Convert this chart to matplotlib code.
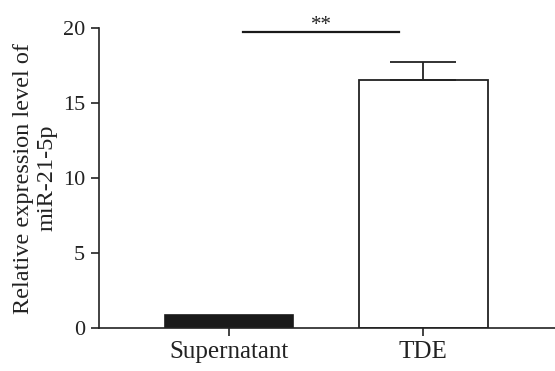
import matplotlib
matplotlib.use("Agg")
import matplotlib.pyplot as plt

categories = ["Supernatant", "TDE"]
values = [0.92, 16.55]
err_upper = [0.0, 1.2]
yticks = [0, 5, 10, 15, 20]

plt.rcParams['font.family'] = ['Liberation Serif', 'DejaVu Serif']

fig = plt.figure(figsize=(5.55, 3.71), dpi=100)
ax = fig.add_axes([0.1784, 0.1146, 0.8216, 0.81])

x = [0, 1]
ax.bar(x[0], values[0], width=0.655, color='#1a1a1a', edgecolor='#1a1a1a', linewidth=1.2)
ax.bar(x[1], values[1], width=0.665, color='white', edgecolor='#222222', linewidth=1.3)
ax.errorbar([x[1]], [values[1]], yerr=[[0], [err_upper[1]]], fmt='none',
            ecolor='#222222', elinewidth=1.3, capsize=23.5, capthick=1.3)

ax.plot([0.074, 0.878], [19.7, 19.7], color='#1a1a1a', lw=1.6, clip_on=False)
ax.text(0.478, 19.85, "**", ha='center', va='baseline', fontsize=15, clip_on=False, color='#222222')

ax.set_xlim(-0.67, 1.68)
ax.set_ylim(0, 20)
ax.set_yticks(yticks)
ax.set_xticks(x)
ax.set_xticklabels(categories)
ax.tick_params(axis='both', width=1.2, length=6, direction='out', colors='#222222')
ax.tick_params(axis='x', labelsize=18, pad=3)
ax.tick_params(axis='y', labelsize=16, pad=4)
ax.spines['top'].set_visible(False)
ax.spines['right'].set_visible(False)
for s in ['left', 'bottom']:
    ax.spines[s].set_linewidth(1.2)
    ax.spines[s].set_color('#222222')
ax.set_ylabel("Relative expression level of\nmiR-21-5p", fontsize=17.5, linespacing=1.15, color='#222222')
ax.yaxis.set_label_coords(-0.092, 0.5)

fig.savefig("out.png", dpi=100)
